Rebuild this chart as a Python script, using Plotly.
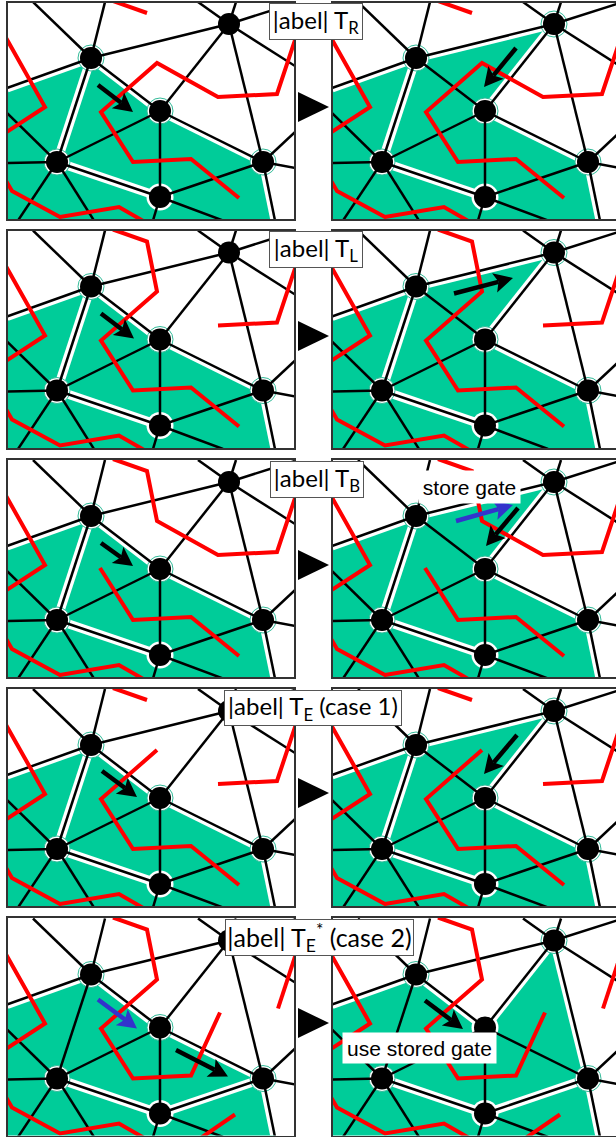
import math
import plotly.graph_objects as go

W, H = 616, 1137
GREEN, RED, BLUE, TEAL = "#00CC99", "#FF0000", "#3333CC", "#33BB99"
FRAME = "#333333"

# Mesh points, in the local coordinates shared by all panels
P = {
    "A": (91, 58), "B": (229, 24), "C": (160, 111), "D": (57, 162), "E": (160, 197), "F": (263, 162),
    "a1": (33, 2), "a2": (105, 2), "a3": (7, 88),
    "b1": (198, 2), "b2": (236, 2), "b3": (295, 3), "b4": (295, 66),
    "d1": (7, 113), "d2": (7, 163), "d3": (18, 220.5), "d4": (94, 220.5),
    "e1": (153, 220.5), "e2": (223, 220.5),
    "f1": (295, 132), "f2": (295, 168), "f3": (275, 220.5),
    "c0": (7, 220.5),
}
MESH = ["A a1", "A a2", "A a3", "A B", "A C", "A D", "C B", "C D", "C E", "C F", "D E", "D d1", "D d2",
        "D d3", "D d4", "E F", "E e1", "E e2", "F B", "F f1", "F f2", "F f3", "B b1", "B b2", "B b3", "B b4"]

# Green regions and their white-bordered edges for each triangulation state
REGION_L1 = ["a3", "A", "C", "F", "f3", "c0"]
REGION_R1 = ["a3", "A", "B", "C", "F", "f3", "c0"]
REGION_R2 = ["a3", "A", "C", "B", "F", "f3", "c0"]
WHITE_L1 = ["a3 A", "A C", "C F", "F f3", "A D", "D E"]
WHITE_R1 = ["a3 A", "A B", "B C", "C F", "F f3", "A D", "D E"]
WHITE_L2 = ["a3 A", "A C", "C F", "F f3", "D E", "E F"]
WHITE_R2 = ["a3 A", "A C", "C B", "B F", "F f3", "D E", "E F"]

# Red polylines
RED_TL = [(113, 1), (147, 13)]
RED_LEFT = [(5, 36), (45, 107), (5, 133)]
RED_BOTTOM = [(5, 179), (12, 191), (60, 217), (119, 207), (145, 222)]
RED_RIGHT = [(297, 34), (277, 94), (218, 97)]
RED_MID_LOW = [(157, 63), (101, 112), (133, 162), (191, 159), (239, 198)]
RED_CROSS = [(218, 97), (157, 63)]
RED_ROW1 = [RED_TL, RED_LEFT, RED_BOTTOM, RED_RIGHT + RED_CROSS[1:] + RED_MID_LOW[1:]]
RED_ROW2 = [RED_TL + RED_MID_LOW, RED_LEFT, RED_BOTTOM, RED_RIGHT]
RED_ROW3 = [RED_TL + RED_CROSS[::-1] + RED_RIGHT[::-1], RED_LEFT, RED_BOTTOM, [(100, 110)] + RED_MID_LOW[2:]]
RED_ROW4 = [RED_TL, RED_LEFT, RED_BOTTOM, RED_MID_LOW, RED_RIGHT]
RED_ROW5 = [RED_TL + RED_MID_LOW[:4] + [(220, 96)], RED_LEFT, RED_BOTTOM,
            [(297, 34), (278, 92)], [(235, 198), (200, 222)]]

# Move arrows: start, end
ARROW_R1L = [(98, 85), (133, 112)]
ARROW_R1R = [(191, 48), (159, 87)]
ARROW_R2L = [(101, 85), (134, 110)]
ARROW_R2R = [(129, 65), (188, 49.5)]
ARROW_R3L = [(101, 85), (133, 108)]
ARROW_R3R = [(193, 50), (161, 88)]
ARROW_R3B = [(131, 63), (188, 47)]
ARROW_R4L = [(102, 84), (137, 110)]
ARROW_R4R = [(192, 48), (159, 87)]
ARROW_R5LB = [(98, 83), (137, 112)]
ARROW_R5L = [(176, 133.5), (228, 160)]
ARROW_R5R = [(100, 84), (138, 112.5)]

ROW_TOPS = [3, 231, 460, 689, 918]
ROW_BOTTOMS = [219, 448, 677, 906, 1135.5]
ROW_OFFSETS = [0, 228.5, 458, 687, 916.5]

PANELS = [
    (0, 0, REGION_L1, WHITE_L1, RED_ROW1, "ACDF", [(ARROW_R1L, "black")]),
    (0, 1, REGION_R1, WHITE_R1, RED_ROW1, "ABCDF", [(ARROW_R1R, "black")]),
    (1, 0, REGION_L1, WHITE_L1, RED_ROW2, "ACDF", [(ARROW_R2L, "black")]),
    (1, 1, REGION_R1, WHITE_R1, RED_ROW2, "ABCDF", [(ARROW_R2R, "black")]),
    (2, 0, REGION_L1, WHITE_L1, RED_ROW3, "ACDF", [(ARROW_R3L, "black")]),
    (2, 1, REGION_R1, WHITE_R1, RED_ROW3, "ABCDF", [(ARROW_R3B, BLUE), (ARROW_R3R, "black")]),
    (3, 0, REGION_L1, WHITE_L1, RED_ROW4, "ACDF", [(ARROW_R4L, "black")]),
    (3, 1, REGION_R1, WHITE_R1, RED_ROW4, "ABCDF", [(ARROW_R4R, "black")]),
    (4, 0, REGION_L1, WHITE_L2, RED_ROW5, "ACDF", [(ARROW_R5LB, BLUE), (ARROW_R5L, "black")]),
    (4, 1, REGION_R2, WHITE_R2, RED_ROW5, "ABDF", [(ARROW_R5R, "black")]),
]
HALO_ONLY = {"ACDF": "E", "ABCDF": "E", "ABDF": "CE"}

COL_LEFT = [8, 333]
COL_RIGHT = [294, 616]
RIGHT_SHIFT = 325

TRI_Y = [107, 336, 565, 793, 1023]
TRI_X = [298, 329]
TRI_HALF = 15

LABELS = [
    ("|abel| T<sub>R</sub>", 270, 362, 4, 39, 24),
    ("|abel| T<sub>L</sub>", 270, 362, 232, 267, 24),
    ("|abel| T<sub>B</sub>", 271, 363, 462, 497, 24),
    ("|abel| T<sub>E</sub> (case 1)", 225, 401, 691, 725, 24),
    ("|abel| T<sub>E</sub><sup>*</sup> (case 2)", 226, 413, 920, 955, 25),
]
NOTES = [
    ("store gate", 419, 520, 471, 503, 21),
    ("use stored gate", 343, 496, 1033, 1063, 21),
]


def seg(keys):
    xs, ys = [], []
    for k in keys:
        a, b = k.split()
        xs += [P[a][0], P[b][0], None]
        ys += [P[a][1], P[b][1], None]
    return xs, ys


def arrow_parts(arrow):
    (x0, y0), (x1, y1) = arrow
    L = math.hypot(x1 - x0, y1 - y0)
    ux, uy = (x1 - x0) / L, (y1 - y0) / L
    nx, ny = -uy, ux
    hl, hw, notch = 19, 10, 15
    head_x = [x1, x1 - hl * ux + hw * nx, x1 - notch * ux, x1 - hl * ux - hw * nx, x1]
    head_y = [y1, y1 - hl * uy + hw * ny, y1 - notch * uy, y1 - hl * uy - hw * ny, y1]
    return [x0, x1 - notch * ux], [y0, y1 - notch * uy], head_x, head_y


fig = go.Figure()
layout = {}


def add(trace_kwargs, n):
    name = "" if n == 1 else str(n)
    fig.add_trace(go.Scatter(xaxis="x" + name, yaxis="y" + name, showlegend=False,
                             hoverinfo="skip", **trace_kwargs))


for i, (row, col, region, white, reds, rings, arrows) in enumerate(PANELS):
    n = i + 1
    suf = "" if n == 1 else str(n)
    top, bot, off = ROW_TOPS[row], ROW_BOTTOMS[row], ROW_OFFSETS[row]
    xleft, xright = COL_LEFT[col], COL_RIGHT[col]
    shift = RIGHT_SHIFT if col else 0
    axis = dict(showticklabels=False, ticks="", showgrid=False, zeroline=False, showline=True,
                linecolor=FRAME, linewidth=2, fixedrange=True)
    layout["xaxis" + suf] = dict(domain=[xleft / W, xright / W], range=[xleft - shift, xright - shift],
                                 anchor="y" + suf, mirror=True, **axis)
    layout["yaxis" + suf] = dict(domain=[1 - bot / H, 1 - top / H], range=[bot - off, top - off],
                                 anchor="x" + suf, mirror=(col == 0), **axis)

    add(dict(x=[P[k][0] for k in region], y=[P[k][1] for k in region], mode="lines", fill="toself",
             fillcolor=GREEN, line=dict(width=0)), n)
    wx, wy = seg(white)
    add(dict(x=wx, y=wy, mode="lines", line=dict(color="white", width=9)), n)
    add(dict(x=[P[k][0] for k in HALO_ONLY[rings]], y=[P[k][1] for k in HALO_ONLY[rings]], mode="markers",
             marker=dict(size=27, color="white", line=dict(width=0))), n)
    add(dict(x=[P[k][0] for k in rings], y=[P[k][1] for k in rings], mode="markers",
             marker=dict(size=26, color="white", line=dict(color=TEAL, width=1))), n)
    mx, my = seg(MESH)
    add(dict(x=mx, y=my, mode="lines", line=dict(color="black", width=2.5)), n)
    for path in reds:
        add(dict(x=[p[0] for p in path], y=[p[1] for p in path], mode="lines",
                 line=dict(color=RED, width=4)), n)
    add(dict(x=[P[k][0] for k in "ABCDEF"], y=[P[k][1] for k in "ABCDEF"], mode="markers",
             marker=dict(size=22, color="black", line=dict(width=0))), n)
    for arrow, color in arrows:
        sx, sy, hx, hy = arrow_parts(arrow)
        add(dict(x=sx, y=sy, mode="lines", line=dict(color=color, width=4.5)), n)
        add(dict(x=hx, y=hy, mode="lines", fill="toself", fillcolor=color, line=dict(width=0)), n)

# Overlay in page pixels for the triangles and labels
OV = len(PANELS) + 1
layout[f"xaxis{OV}"] = dict(domain=[0, 1], range=[0, W], anchor=f"y{OV}", visible=False, fixedrange=True)
layout[f"yaxis{OV}"] = dict(domain=[0, 1], range=[H, 0], anchor=f"x{OV}", visible=False, fixedrange=True)
for y in TRI_Y:
    add(dict(x=[TRI_X[0], TRI_X[1], TRI_X[0], TRI_X[0]], y=[y - TRI_HALF, y, y + TRI_HALF, y - TRI_HALF],
             mode="lines", fill="toself", fillcolor="black", line=dict(width=0)), OV)

annotations = []
for text, x0, x1, y0, y1, size in LABELS:
    annotations.append(dict(text=text, xref=f"x{OV}", yref=f"y{OV}", x=(x0 + x1) / 2, y=(y0 + y1) / 2,
                            width=x1 - x0, height=y1 - y0, showarrow=False, bgcolor="white",
                            bordercolor="#555555", borderwidth=1, borderpad=0,
                            font=dict(family="Lato", size=size, color="black")))
for text, x0, x1, y0, y1, size in NOTES:
    annotations.append(dict(text=text, xref=f"x{OV}", yref=f"y{OV}", x=(x0 + x1) / 2, y=(y0 + y1) / 2,
                            width=x1 - x0, height=y1 - y0, showarrow=False, bgcolor="white",
                            borderpad=0, font=dict(family="Liberation Sans", size=size, color="black")))

fig.update_layout(width=W, height=H, margin=dict(l=0, r=0, t=0, b=0), paper_bgcolor="white",
                  plot_bgcolor="rgba(0,0,0,0)", annotations=annotations, **layout)
fig.write_html("out.html", config={"displayModeBar": False},
               post_script="document.body.style.margin='0';document.documentElement.style.overflow='hidden';")
